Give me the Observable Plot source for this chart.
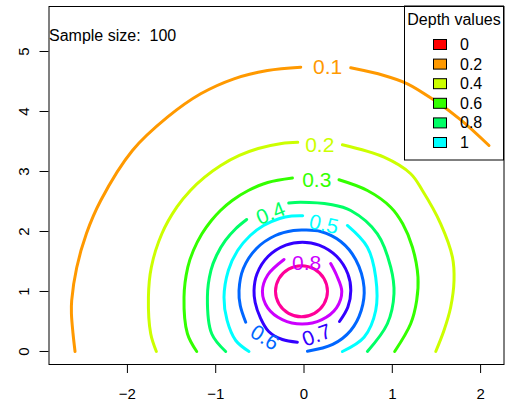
<!DOCTYPE html>
<html><head><meta charset="utf-8">
<script src="https://cdn.jsdelivr.net/npm/d3@7"></script>
<script src="https://cdn.jsdelivr.net/npm/@observablehq/plot@0.6"></script>
<style>
html,body{margin:0;padding:0;background:#fff;}
#chart{width:505px;height:407px;}
</style></head><body><div id="chart"></div>
<script>
// ---- data ----
const xTicks = [-2, -1, 0, 1, 2];
const yTicks = [0, 1, 2, 3, 4, 5];
const levelNames = ["0.1","0.2","0.3","0.4","0.5","0.6","0.7","0.8","0.9"];
const levelColors = ["#FF9900","#CCFF00","#33FF00","#00FF66","#00FFFF","#0066FF","#3300FF","#CC00FF","#FF0099"];

// contour line pieces (x, y); gaps are where labels sit
const c01a = [[-2.593,0],[-2.616,0.3],[-2.634,0.633],[-2.631,0.85],[-2.574,1.4],[-2.464,1.967],[-2.302,2.517],[-1.943,3.35],[-1.547,3.905],[-1.170,4.295],[-0.793,4.545],[-0.414,4.683],[-0.037,4.738]];
const c01b = [[0.529,4.728],[0.906,4.60],[1.171,4.462],[1.472,4.19],[1.775,3.86],[2.095,3.433]];
const c02a = [[-1.672,0],[-1.736,0.295],[-1.762,0.905],[-1.729,1.405],[-1.610,1.962],[-1.441,2.405],[-1.287,2.683],[-1.125,2.905],[-0.943,3.1],[-0.732,3.267],[-0.519,3.383],[-0.254,3.467],[-0.071,3.488]];
const c02b = [[0.435,3.445],[0.906,3.238],[1.208,2.962],[1.341,2.683],[1.548,2.128],[1.681,1.572],[1.699,1.183],[1.661,0.738],[1.585,0.35],[1.492,0]];
const c03a = [[-1.215,0],[-1.320,0.295],[-1.359,0.905],[-1.316,1.405],[-1.253,1.683],[-1.156,1.962],[-1.049,2.183],[-0.946,2.35],[-0.813,2.517],[-0.631,2.683],[-0.411,2.817],[-0.131,2.892]];
const c03b = [[0.396,2.862],[0.718,2.683],[0.982,2.405],[1.118,2.128],[1.228,1.738],[1.291,1.238],[1.276,0.85],[1.208,0.462],[1.027,0]];
const c04a = [[-0.887,0],[-1.045,0.295],[-1.094,0.905],[-1.054,1.35],[-0.991,1.6],[-0.890,1.85],[-0.771,2.05],[-0.649,2.2]];
const c04b = [[-0.173,2.475],[-0.037,2.488],[0.302,2.45],[0.529,2.35],[0.831,1.962],[0.982,1.405],[1.019,0.962],[0.944,0.462],[0.718,0]];
const c05a = [[-0.623,0],[-0.773,0.183],[-0.871,0.517],[-0.906,0.9],[-0.857,1.35],[-0.752,1.683],[-0.609,1.933],[-0.458,2.1],[-0.276,2.217],[-0.140,2.258],[-0.015,2.263]];
const c05b = [[0.491,2.1],[0.718,1.738],[0.812,1.238],[0.812,0.683],[0.680,0.238],[0.435,0]];
const c06a = [[-0.660,0.488],[-0.722,0.767],[-0.736,1.017],[-0.687,1.383],[-0.538,1.717],[-0.324,1.933],[-0.119,2.017],[0,2.025],[0.189,2.0],[0.416,1.833],[0.585,1.533],[0.680,1.067],[0.648,0.683],[0.529,0.35],[0.325,0.117],[0.039,0.003]];
const c07a = [[-0.075,0.155],[-0.245,0.2],[-0.400,0.333],[-0.496,0.567],[-0.553,0.817],[-0.566,1.017],[-0.533,1.292],[-0.405,1.587],[-0.206,1.773],[-0.018,1.822],[0.170,1.773],[0.369,1.587],[0.497,1.292],[0.530,1.017],[0.497,0.742],[0.402,0.5]];
const c08a = [[-0.226,1.533],[-0.411,1.275],[-0.471,1.0],[-0.411,0.728],[-0.246,0.532],[-0.022,0.458],[0.203,0.532],[0.368,0.728],[0.428,1.0],[0.368,1.275],[0.302,1.467]];
const c09ring = [[0.266,1.003],[0.226,1.216],[0.118,1.372],[-0.028,1.428],[-0.175,1.372],[-0.283,1.216],[-0.323,1.003],[-0.283,0.791],[-0.175,0.635],[-0.028,0.578],[0.118,0.635],[0.226,0.791]];

const pieceLevels = [0,0,1,1,2,2,3,3,4,4,5,6,7];
const pieces = [c01a,c01b,c02a,c02b,c03a,c03b,c04a,c04b,c05a,c05b,c06a,c07a,c08a];

// contour labels
const labelLevels = [0,1,2,3,4,5,6,7];
const labelX = [0.268, 0.178, 0.144, -0.377, 0.223, -0.445, 0.144, 0.03];
const labelY = [4.733, 3.445, 2.85, 2.30, 2.117, 0.228, 0.267, 1.475];
const labelAngle = [0, 0, 0, -22, 12, 32, -20, 0];

// legend
const legendTitle = "Depth values";
const legendLabels = ["0","0.2","0.4","0.6","0.8","1"];
const legendColors = ["#FF0000","#FF9900","#CCFF00","#33FF00","#00FF66","#00FFFF"];
const sampleSize = 100;

// ---- build tables ----
const lineRows = [];
pieces.forEach((p, i) => p.forEach(([x, y]) => lineRows.push({x, y, seg: i, color: levelColors[pieceLevels[i]]})));
const ringRows = c09ring.map(([x, y]) => ({x, y, color: levelColors[8]}));
const labelRows = labelLevels.map((l, i) => ({x: labelX[i], y: labelY[i], text: levelNames[l], color: levelColors[l], angle: labelAngle[i]}));

const fmt = d => d < 0 ? "\u2212" + Math.abs(d) : String(d);
const font = "'Liberation Sans', Arial, Helvetica, sans-serif";

const plot = Plot.plot({
  width: 505, height: 407,
  marginLeft: 48.5, marginRight: 1.5, marginTop: 6, marginBottom: 43,
  x: {domain: [-2.888, 2.265], label: null},
  y: {domain: [-0.217, 5.75], label: null},
  color: {type: "identity"},
  style: {fontFamily: font, fontSize: "15px", color: "black", background: "white", overflow: "visible"},
  marks: [
    Plot.axisX({ticks: xTicks, tickSize: 9, tickPadding: 15, tickFormat: fmt, fontSize: 15, label: null}),
    Plot.axisY({ticks: yTicks, tickSize: 9, tickFormat: () => "", label: null}),
    Plot.text(yTicks, {y: d => d, text: d => fmt(d), frameAnchor: "left", dx: -24.5, rotate: -90, textAnchor: "middle", lineAnchor: "middle", fontSize: 15, fill: "black"}),
    Plot.line(lineRows, {x: "x", y: "y", z: "seg", stroke: "color", strokeWidth: 3, strokeLinecap: "round", curve: "catmull-rom"}),
    Plot.line(ringRows, {x: "x", y: "y", stroke: "color", strokeWidth: 3, curve: "catmull-rom-closed"}),
    Plot.text(labelRows, {x: "x", y: "y", text: "text", fill: "color", rotate: "angle", fontSize: 21, textAnchor: "middle", lineAnchor: "middle"}),
    Plot.frame({stroke: "black", strokeWidth: 1})
  ]
});

const svg = d3.select(plot);
svg.append("text").attr("x", 49).attr("y", 41).attr("font-size", 16).attr("font-family", font)
  .attr("text-anchor", "start").style("white-space", "pre").text("Sample size:\u00a0\u00a0" + sampleSize);

const lg = svg.append("g").attr("font-family", font).attr("font-size", 16).attr("text-anchor", "start");
lg.append("rect").attr("x", 404.5).attr("y", 6).attr("width", 99).attr("height", 154)
  .attr("fill", "none").attr("stroke", "black");
lg.append("text").attr("x", 454).attr("y", 25).attr("text-anchor", "middle").text(legendTitle);
legendLabels.forEach((lab, i) => {
  const base = 50 + 19.6 * i;
  lg.append("rect").attr("x", 433.5).attr("y", base - 10.5).attr("width", 13).attr("height", 10)
    .attr("fill", legendColors[i]).attr("stroke", "black").attr("stroke-width", 1);
  lg.append("text").attr("x", 460).attr("y", base).attr("text-anchor", "start").text(lab);
});

document.getElementById("chart").appendChild(plot);
</script>
</body></html>
